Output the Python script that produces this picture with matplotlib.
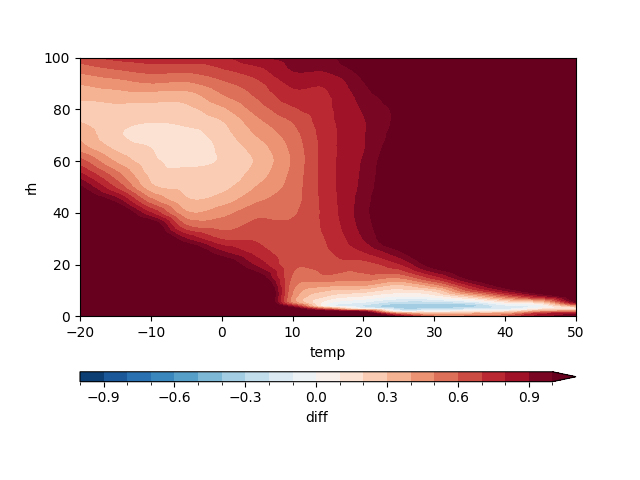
import numpy as np
import matplotlib
matplotlib.use('Agg')
import matplotlib.pyplot as plt
import matplotlib.tri as mtri
from matplotlib.ticker import FixedLocator

# grid axes
temp = [-20, -15, -10, -5, 0, 5, 10, 15, 20, 25, 30, 35, 40, 45, 50]
rh = [0, 1, 2, 3, 4, 5, 6, 8, 10, 12, 15, 20, 25, 30, 35, 40, 45, 50,
      55, 60, 65, 70, 75, 80, 85, 90, 95, 100]

# diff values, one column per temperature, listed along rh (bottom -> top)
diff_cols = [
    # -20
    [1.5, 1.5, 1.5, 1.5, 1.5, 1.5, 1.5, 1.5, 1.5, 1.5, 1.5, 1.5, 1.5, 1.5,
     1.45, 1.35, 1.2, 1.02, 0.82, 0.64, 0.45, 0.375, 0.3, 0.25, 0.33, 0.405, 0.525, 0.66],
    # -15
    [1.5, 1.5, 1.5, 1.5, 1.5, 1.5, 1.5, 1.5, 1.5, 1.5, 1.5, 1.5, 1.5,
     1.45, 1.35, 1.2, 0.95, 0.69, 0.54, 0.39, 0.28, 0.22, 0.23, 0.27, 0.345, 0.45, 0.585, 0.73],
    # -10
    [1.5, 1.5, 1.5, 1.5, 1.5, 1.5, 1.5, 1.5, 1.5, 1.5, 1.5, 1.5,
     1.45, 1.3, 1.15, 0.8, 0.525, 0.33, 0.27, 0.23, 0.2, 0.16, 0.2, 0.26, 0.345, 0.495, 0.63, 0.76],
    # -5
    [1.5, 1.5, 1.5, 1.5, 1.5, 1.5, 1.5, 1.5, 1.5, 1.5, 1.5,
     1.35, 1.2, 0.9, 0.61, 0.42, 0.315, 0.27, 0.23, 0.17, 0.13, 0.16, 0.22, 0.27, 0.345, 0.48, 0.62, 0.76],
    # 0
    [1.5, 1.5, 1.5, 1.5, 1.5, 1.5, 1.48, 1.45, 1.4, 1.35, 1.3,
     1.15, 0.91, 0.69, 0.555, 0.465, 0.345, 0.27, 0.24, 0.21, 0.22, 0.25, 0.29, 0.375, 0.48, 0.57, 0.68, 0.78],
    # 5
    [1.5, 1.5, 1.5, 1.5, 1.5, 1.5, 1.5, 1.5, 1.45, 1.3, 1.1,
     0.87, 0.75, 0.68, 0.63, 0.57, 0.48, 0.405, 0.345, 0.315, 0.345, 0.405, 0.465, 0.54, 0.61, 0.67, 0.76, 0.88],
    # 10
    [1.5, 1.45, 1.3, 1.1, 0.8, 0.525, 0.45, 0.48, 0.51, 0.54, 0.585,
     0.62, 0.64, 0.64, 0.62, 0.585, 0.555, 0.54, 0.525, 0.51, 0.525, 0.555, 0.6, 0.68, 0.76, 0.82, 0.9, 0.94],
    # 15
    [1.4, 1.25, 1.0, 0.45, -0.03, 0.0, 0.07, 0.2, 0.3, 0.42, 0.57,
     0.66, 0.69, 0.71, 0.73, 0.74, 0.75, 0.76, 0.76, 0.76, 0.76, 0.76, 0.77, 0.78, 0.79, 0.82, 0.91, 0.97],
    # 20
    [1.4, 1.2, 0.8, -0.05, -0.21, -0.14, -0.05, 0.11, 0.25, 0.405, 0.555,
     0.65, 0.8, 0.9, 0.94, 0.96, 0.95, 0.93, 0.92, 0.91, 0.89, 0.89, 0.89, 0.91, 0.94, 0.99, 1.05, 1.15],
    # 25
    [0.9, 0.525, -0.05, -0.3, -0.36, -0.3, -0.18, 0.02, 0.16, 0.28, 0.51,
     0.78, 0.98, 1.17, 1.18, 1.18, 1.18, 1.17, 1.16, 1.15, 1.12, 1.08, 1.05, 1.05, 1.1, 1.2, 1.25, 1.3],
    # 30
    [0.525, 0.3, -0.02, -0.28, -0.38, -0.3, -0.17, 0.07, 0.23, 0.45, 0.74,
     1.08, 1.25, 1.35, 1.4, 1.4, 1.4, 1.4, 1.4, 1.4, 1.4, 1.4, 1.4, 1.4, 1.4, 1.4, 1.4, 1.4],
    # 35
    [0.525, 0.375, 0.05, -0.22, -0.35, -0.25, -0.06, 0.3, 0.62, 0.8, 1.05,
     1.25, 1.35, 1.45, 1.45, 1.45, 1.45, 1.45, 1.45, 1.45, 1.45, 1.45, 1.45, 1.45, 1.45, 1.45, 1.45, 1.45],
    # 40
    [0.6, 0.42, 0.1, -0.15, -0.14, 0.0, 0.2, 0.6, 0.9, 1.08, 1.25,
     1.4, 1.5, 1.5, 1.5, 1.5, 1.5, 1.5, 1.5, 1.5, 1.5, 1.5, 1.5, 1.5, 1.5, 1.5, 1.5, 1.5],
    # 45
    [0.85, 0.75, 0.375, 0.05, -0.03, 0.12, 0.375, 0.88, 1.15, 1.3, 1.4,
     1.5, 1.5, 1.5, 1.5, 1.5, 1.5, 1.5, 1.5, 1.5, 1.5, 1.5, 1.5, 1.5, 1.5, 1.5, 1.5, 1.5],
    # 50
    [1.0, 0.85, 0.45, 0.1, 0.345, 0.77, 1.05, 1.2, 1.3, 1.4, 1.5,
     1.5, 1.5, 1.5, 1.5, 1.5, 1.5, 1.5, 1.5, 1.5, 1.5, 1.5, 1.5, 1.5, 1.5, 1.5, 1.5, 1.5],
]

levels = np.linspace(-1.0, 1.0, 21)
cbar_ticks = [-0.9, -0.6, -0.3, 0.0, 0.3, 0.6, 0.9]

T = np.array(temp, float)
R = np.array(rh, float)
Z = np.array(diff_cols, float).T
X, Y = np.meshgrid(T, R)
nx, ny = len(T), len(R)
tris = []
for j in range(ny - 1):
    for i in range(nx - 1):
        a = j * nx + i
        b = a + 1
        c = a + nx
        d = c + 1
        tris.append([a, b, d])
        tris.append([a, d, c])
tri = mtri.Triangulation(X.ravel(), Y.ravel(), np.array(tris))
interp = mtri.CubicTriInterpolator(tri, Z.ravel(), kind='geom')
refiner = mtri.UniformTriRefiner(tri)
tri_f, z_f = refiner.refine_field(Z.ravel(), triinterpolator=interp, subdiv=4)

fig, ax = plt.subplots(figsize=(6.4, 4.8), dpi=100)
cs = ax.tricontourf(tri_f, z_f, levels=levels, cmap='RdBu_r', extend='max')
ax.set_xlim(-20, 50)
ax.set_ylim(0, 100)
ax.set_xlabel('temp')
ax.set_ylabel('rh')

cbar = fig.colorbar(cs, ax=ax, orientation='horizontal', aspect=50)
cbar.set_label('diff')
cbar.set_ticks(cbar_ticks)
cbar.ax.xaxis.set_minor_locator(FixedLocator(levels))

fig.savefig('out.png', dpi=100)
